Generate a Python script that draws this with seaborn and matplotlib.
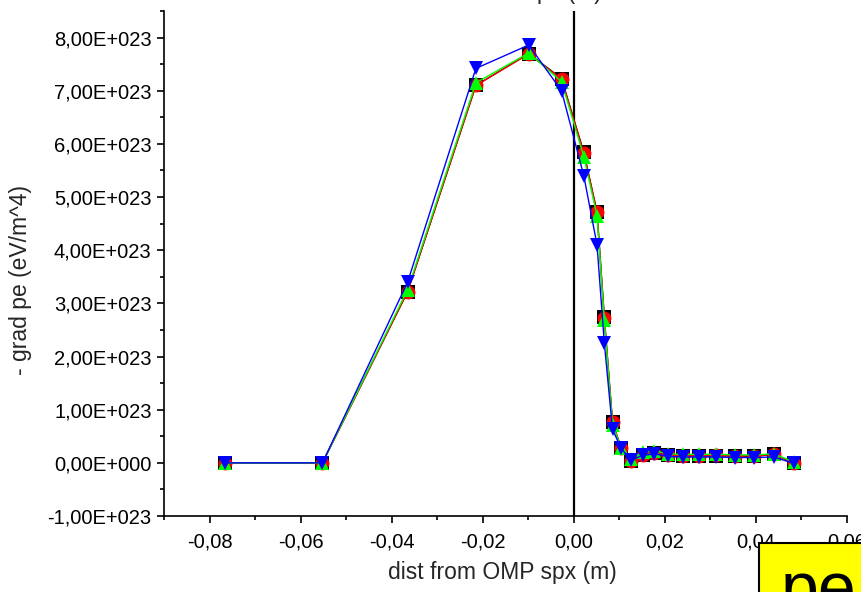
import matplotlib
matplotlib.use("Agg")
import matplotlib.pyplot as plt
import numpy as np
import pandas as pd
import seaborn as sns
from matplotlib.ticker import FixedLocator, FixedFormatter, AutoMinorLocator
from matplotlib.patches import Rectangle

# ---- data ----
dist = [-0.0765, -0.0552, -0.0365, -0.0215, -0.0099, -0.0027, 0.0022, 0.0051,
        0.0067, 0.0085, 0.0104, 0.0126, 0.0151, 0.0177, 0.0207, 0.0240,
        0.0274, 0.0313, 0.0353, 0.0395, 0.0439, 0.0483]
black_vals = [0.0, 0.0, 3.22, 7.10, 7.70, 7.23, 5.84, 4.72, 2.74, 0.76, 0.28, 0.03,
              0.15, 0.18, 0.14, 0.13, 0.13, 0.13, 0.13, 0.12, 0.16, 0.0]
red_vals = [0.0, 0.0, 3.22, 7.10, 7.69, 7.22, 5.83, 4.71, 2.73, 0.76, 0.28, 0.03,
            0.15, 0.18, 0.14, 0.13, 0.13, 0.14, 0.13, 0.13, 0.16, 0.0]
green_vals = [0.0, 0.0, 3.26, 7.15, 7.71, 7.17, 5.76, 4.65, 2.69, 0.72, 0.28, 0.08,
              0.20, 0.23, 0.17, 0.16, 0.16, 0.16, 0.15, 0.15, 0.17, 0.02]
blue_vals = [0.0, 0.0, 3.40, 7.42, 7.86, 7.00, 5.40, 4.10, 2.26, 0.63, 0.27, 0.05,
             0.14, 0.17, 0.12, 0.11, 0.11, 0.11, 0.10, 0.10, 0.11, -0.01]
scale = 1e23

series_names = ["black", "red", "green", "blue"]
series_vals = [black_vals, red_vals, green_vals, blue_vals]
series_colors = ["#000000", "#ff0000", "#00ff00", "#0000ff"]
series_markers = ["s", "o", "^", "v"]

x_ticks = [-0.08, -0.06, -0.04, -0.02, 0.00, 0.02, 0.04, 0.06]
x_tick_labels = ["-0,08", "-0,06", "-0,04", "-0,02", "0,00", "0,02", "0,04", "0,06"]
y_ticks = [-1e23, 0, 1e23, 2e23, 3e23, 4e23, 5e23, 6e23, 7e23, 8e23]
y_tick_labels = ["-1,00E+023", "0,00E+000", "1,00E+023", "2,00E+023", "3,00E+023",
                 "4,00E+023", "5,00E+023", "6,00E+023", "7,00E+023", "8,00E+023"]

# ---- style ----
sns.set_style("ticks")
plt.rcParams["font.family"] = ["Liberation Sans", "DejaVu Sans"]

fig = plt.figure(figsize=(8.61, 5.92), dpi=100)
ax = fig.add_axes([164 / 861, 1 - 516 / 592, (847 - 164) / 861, (516 - 11) / 592])

for name, vals, col, mk in zip(series_names, series_vals, series_colors, series_markers):
    df = pd.DataFrame({"x": dist, "y": np.array(vals) * scale})
    sns.lineplot(data=df, x="x", y="y", ax=ax, color=col, marker=mk,
                 markersize=10, markeredgewidth=0, linewidth=1.0,
                 sort=False, estimator=None, legend=False)

ax.axvline(0, color="black", lw=1.6, zorder=1)

ax.set_xlim(-0.09, 0.06)
ax.set_ylim(-1e23, 8.5e23)
ax.xaxis.set_major_locator(FixedLocator(x_ticks))
ax.xaxis.set_major_formatter(FixedFormatter(x_tick_labels))
ax.yaxis.set_major_locator(FixedLocator(y_ticks))
ax.yaxis.set_major_formatter(FixedFormatter(y_tick_labels))
ax.xaxis.set_minor_locator(AutoMinorLocator(2))
ax.yaxis.set_minor_locator(AutoMinorLocator(2))

for s in ["top", "right"]:
    ax.spines[s].set_visible(False)
for s in ["left", "bottom"]:
    ax.spines[s].set_linewidth(1.2)
    ax.spines[s].set_color("black")

ax.tick_params(which="major", direction="out", length=5, width=1.2, labelsize=14.5,
               colors="black")
ax.tick_params(axis="x", which="major", pad=7)
ax.tick_params(axis="y", which="major", pad=4)
ax.tick_params(which="minor", direction="out", length=3, width=1.2, colors="black")

ax.set_xlabel("dist from OMP spx (m)", fontsize=16.5)
ax.set_ylabel("- grad pe (eV/m^4)", fontsize=16.5)
ax.xaxis.set_label_coords((502 - 164) / 683, (516 - 572) / 505)
ax.yaxis.set_label_coords((21 - 164) / 683, (516 - 280) / 505)
ax.xaxis.label.set_va("center")
ax.yaxis.label.set_va("center")

# partially visible title clipped at the top of the image
fig.text(487 / 861, 1 + 1.5 / 592, "dist from OMP spx (m)", ha="center", va="baseline",
         fontsize=16.5)

# yellow box at bottom right, clipped by image edge
fig.patches.append(Rectangle((759 / 861, -0.1), 0.3, 0.1 + (592 - 543) / 592,
                             transform=fig.transFigure, facecolor="#ffff00",
                             edgecolor="black", linewidth=1.5, zorder=5))
fig.text(781 / 861, 1 - 610 / 592, "pe", ha="left", va="baseline", fontsize=49,
         color="black", zorder=6)

fig.savefig("out.png", dpi=100)
